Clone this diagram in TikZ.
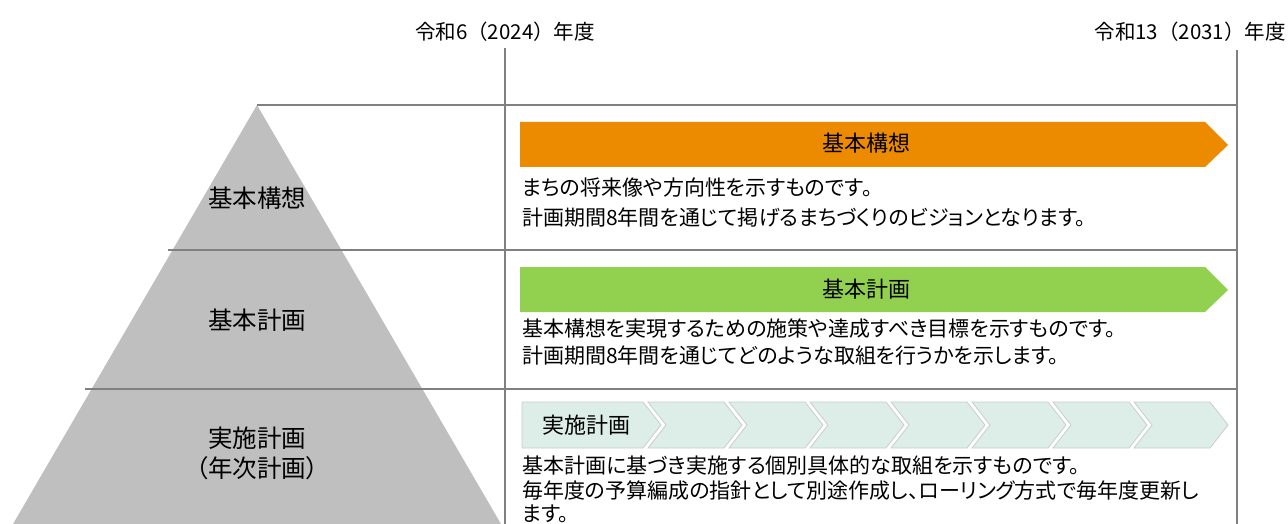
\documentclass[tikz,border=0pt]{standalone}
\usepackage{fontspec}
\setmainfont{Noto Sans CJK JP}[RawFeature={+palt}]
\newfontfamily\fullw{Noto Sans CJK JP}
\definecolor{linegray}{HTML}{808080}
\definecolor{pyrgray}{HTML}{BEBFBE}
\definecolor{orangec}{HTML}{EC8A00}
\definecolor{greenc}{HTML}{92D050}
\definecolor{chevfill}{HTML}{DDEDE8}
\definecolor{chevline}{HTML}{C6CFCB}
\tikzset{
  x=1pt,y=-1pt,
  grid/.style={draw=linegray,line width=1.4pt},
  body/.style={font=\fontsize{21}{24}\selectfont,anchor=base west,inner sep=0pt},
  toplabel/.style={font=\fullw\fontsize{20.5}{22}\selectfont,inner sep=0pt,anchor=base},
  pyrlabel/.style={font=\fontsize{24.5}{26}\selectfont,inner sep=0pt,anchor=base},
  barlabel/.style={font=\fontsize{22}{24}\selectfont,inner sep=0pt,anchor=base},
  chev/.style={fill=chevfill,draw=chevline,line width=0.8pt}
}
\begin{document}
\begin{tikzpicture}
\useasboundingbox (0,0) rectangle (1288,524);
% pyramid
\fill[pyrgray] (257,105) -- (13,524) -- (501,524) -- cycle;
% grid lines
\draw[grid] (257,105) -- (1237,105);
\draw[grid] (168,250) -- (1237,250);
\draw[grid] (85,389) -- (1237,389);
\draw[grid] (505,48) -- (505,524);
\draw[grid] (1237,50) -- (1237,524);
% top labels
\node[toplabel] (y1) at (505,40) {令和6（2024）年度};
\node[toplabel,anchor=base east] (y2) at (1286,40) {令和13（2031）年度};
% pyramid labels
\node[pyrlabel] (p1) at (257,207) {基本構想};
\node[pyrlabel] (p2) at (257,329) {基本計画};
\node[pyrlabel] (p3) at (257,447) {実施計画};
\node[pyrlabel] (p4) at (257,477) {（年次計画）};
% orange bar
\fill[orangec] (520,122) -- (1205,122) -- (1228,145) -- (1205,167) -- (520,167) -- cycle;
\node[barlabel] (b1) at (866,152) {基本構想};
\node[body] (t11) at (522,196) {まちの将来像や方向性を示すものです。};
\node[body] (t12) at (522,225) {計画期間8年間を通じて掲げるまちづくりのビジョンとなります。};
% green bar
\fill[greenc] (520,267) -- (1205,267) -- (1228,290) -- (1205,312) -- (520,312) -- cycle;
\node[barlabel] (b2) at (866,297) {基本計画};
\node[body] (t21) at (522,336) {基本構想を実現するための施策や達成すべき目標を示すものです。};
\node[body] (t22) at (522,363) {計画期間8年間を通じてどのような取組を行うかを示します。};
% chevrons
\draw[chev] (522,402) -- (643,402) -- (661,425) -- (643,448) -- (522,448) -- cycle;
\foreach \k in {1,...,7}{
  \pgfmathsetmacro{\L}{643+81*(\k-1)+5}
  \pgfmathsetmacro{\R}{643+81*\k}
  \draw[chev] (\L,402) -- (\R,402) -- (\R+18,425) -- (\R,448) -- (\L,448) -- (\L+18,425) -- cycle;
}
\node[barlabel] (b3) at (586,433) {実施計画};
\node[body] (t31) at (522,473) {基本計画に基づき実施する個別具体的な取組を示すものです。};
\node[body] (t32) at (522,498) {毎年度の予算編成の指針として別途作成し、ローリング方式で毎年度更新し};
\node[body] (t33) at (522,521) {ます。};
\end{tikzpicture}
\end{document}
